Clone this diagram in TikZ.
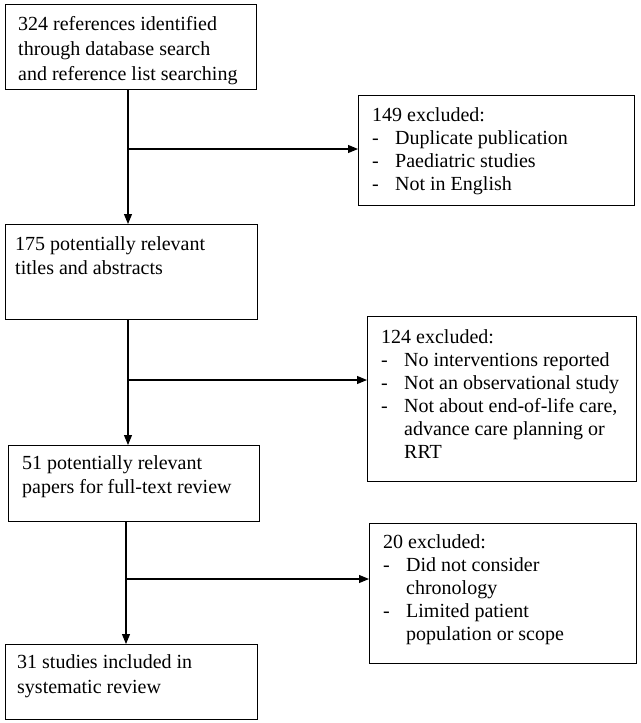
\documentclass[tikz,border=0pt]{standalone}
\usepackage{fontspec}
\setmainfont{Liberation Serif}
\usetikzlibrary{arrows.meta}
\newcommand\itm[1]{\makebox[23pt][l]{-}#1}
\newcommand\cnt[1]{\hspace*{23pt}#1}
\begin{document}
\begin{tikzpicture}[x=1pt,y=-1pt,
  boxn/.style={draw, line width=1.1pt, inner sep=0pt, anchor=north west},
  txt/.style={inner sep=0pt, anchor=north west, align=left},
  conn/.style={line width=1.1pt},
  arr/.style={conn, -{Triangle[length=10pt,width=8pt]}}]
\useasboundingbox (0,0) rectangle (640,723);
% boxes
\node[boxn, minimum width=251pt, minimum height=85pt] (b1) at (5,4) {};
\node[boxn, minimum width=276pt, minimum height=110pt] (b2) at (358,95) {};
\node[boxn, minimum width=252pt, minimum height=95pt] (b3) at (5,224) {};
\node[boxn, minimum width=269pt, minimum height=165pt] (b4) at (367,316) {};
\node[boxn, minimum width=251pt, minimum height=76pt] (b5) at (8,445) {};
\node[boxn, minimum width=267pt, minimum height=140pt] (b6) at (369,523) {};
\node[boxn, minimum width=252pt, minimum height=75pt] (b7) at (5,644) {};
% texts
\node[txt, font=\fontsize{20}{25}\selectfont] (t1) at (18,16.3)
  {324 references identified\\through database search\\and reference list searching};
\node[txt, font=\fontsize{20}{23}\selectfont] (t2) at (372,107.3)
  {149 excluded:\\\itm{Duplicate publication}\\\itm{Paediatric studies}\\\itm{Not in English}};
\node[txt, font=\fontsize{20}{24}\selectfont] (t3) at (15,236.3)
  {175 potentially relevant\\titles and abstracts};
\node[txt, font=\fontsize{20}{23}\selectfont] (t4) at (381,329.3)
  {124 excluded:\\\itm{No interventions reported}\\\itm{Not an observational study}\\\itm{Not about end-of-life care,}\\\cnt{advance care planning or}\\\cnt{RRT}};
\node[txt, font=\fontsize{20}{24}\selectfont] (t5) at (22,455.3)
  {51 potentially relevant\\papers for full-text review};
\node[txt, font=\fontsize{20}{23}\selectfont] (t6) at (383,534.3)
  {20 excluded:\\\itm{Did not consider}\\\cnt{chronology}\\\itm{Limited patient}\\\cnt{population or scope}};
\node[txt, font=\fontsize{20}{25}\selectfont] (t7) at (17,654.3)
  {31 studies included in\\systematic review};
% junctions
\coordinate (j1) at (128,149);
\coordinate (j2) at (128,380);
\coordinate (j3) at (126,579);
% connectors
\draw[arr] (b1.south -| j1) -- (b3.north -| j1);
\draw[arr] (j1) -- (j1 -| b2.west);
\draw[arr] (b3.south -| j2) -- (b5.north -| j2);
\draw[arr] (j2) -- (j2 -| b4.west);
\draw[arr] (b5.south -| j3) -- (b7.north -| j3);
\draw[arr] (j3) -- (j3 -| b6.west);
\end{tikzpicture}
\end{document}
